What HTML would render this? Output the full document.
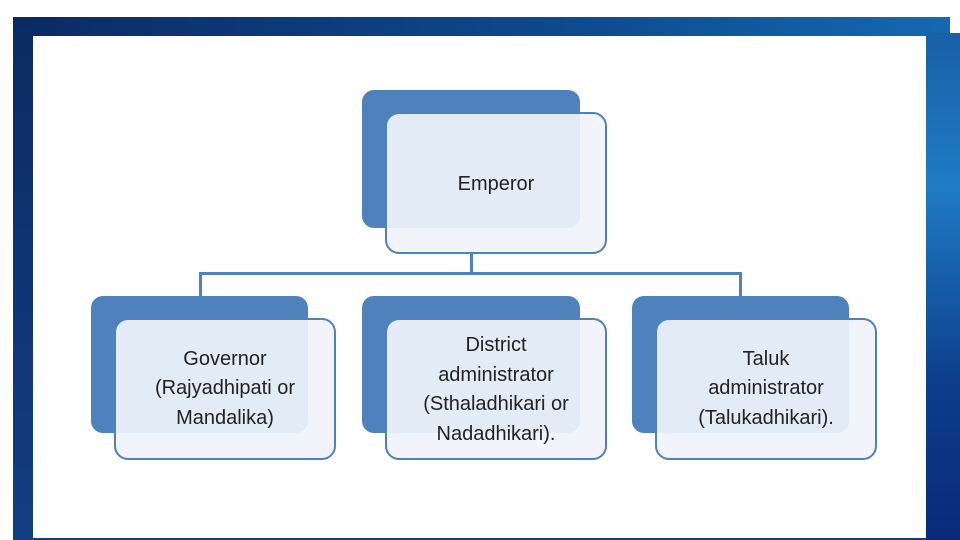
<!DOCTYPE html>
<html><head><style>
body{margin:0;width:960px;height:540px;position:relative;overflow:hidden;background:#fff;font-family:"Liberation Sans",sans-serif}
.a{position:absolute}
.back{position:absolute;background:#4f81bd;border-radius:12px}
.front{position:absolute;background:rgba(240,244,251,0.92);border:2px solid #4f81bd;border-radius:14px;box-sizing:border-box;display:flex;align-items:center;justify-content:center;text-align:center;font-size:20px;line-height:29.5px;color:#222}
.ln{position:absolute;background:#4f81bd}
</style></head><body>
<div class="a" style="left:13px;top:17px;width:937px;height:19px;background:linear-gradient(90deg,#0b2b63,#0e4a8f 60%,#1469b0)"></div>
<div class="a" style="left:13px;top:17px;width:20px;height:523px;background:linear-gradient(180deg,#0b2b63,#123e82)"></div>
<div class="a" style="left:926px;top:33px;width:34px;height:507px;background:linear-gradient(180deg,#1a5fa8,#1f7cc4 30%,#0d3c8c 70%,#0a2a78)"></div>
<div class="a" style="left:33px;top:538px;width:893px;height:2px;background:#123e82"></div>

<div class="ln" style="left:470px;top:252px;width:3px;height:22px"></div>
<div class="ln" style="left:199px;top:272px;width:543px;height:3px"></div>
<div class="ln" style="left:199px;top:272px;width:3px;height:26px"></div>
<div class="ln" style="left:739px;top:272px;width:3px;height:26px"></div>

<div class="back" style="left:362px;top:90px;width:218px;height:138px"></div>
<div class="front" style="left:385px;top:112px;width:222px;height:142px;padding-bottom:0px;padding-top:3px">Emperor</div>

<div class="back" style="left:91px;top:296px;width:217px;height:137px"></div>
<div class="front" style="left:114px;top:318px;width:222px;height:142px;padding-bottom:0px">Governor<br>(Rajyadhipati or<br>Mandalika)</div>

<div class="back" style="left:362px;top:296px;width:218px;height:137px"></div>
<div class="front" style="left:385px;top:318px;width:222px;height:142px;padding-top:2px">District<br>administrator<br>(Sthaladhikari or<br>Nadadhikari).</div>

<div class="back" style="left:632px;top:296px;width:217px;height:137px"></div>
<div class="front" style="left:655px;top:318px;width:222px;height:142px;padding-bottom:0px">Taluk<br>administrator<br>(Talukadhikari).</div>
</body></html>
